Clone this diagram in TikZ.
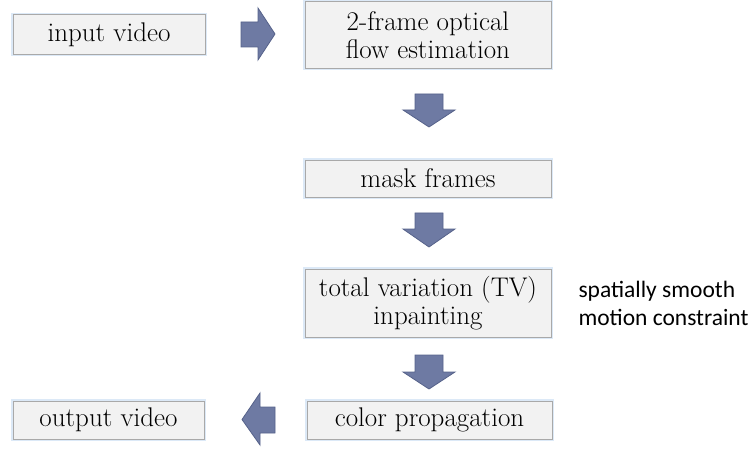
\documentclass[tikz,border=0pt]{standalone}
\usepackage{fontspec}
\newfontfamily\sidefont{Carlito}
\begin{document}
\begin{tikzpicture}[x=1pt,y=-1pt,
  stepbox/.style={draw=boxline, fill=boxfill, line width=0.9pt, inner sep=0pt, align=center,
    font=\fontsize{27}{28}\selectfont,
    preaction={draw=glow, line width=3.5pt}},
  blockarrow/.style={draw=arrline, fill=arrfill, line width=0.8pt, line join=miter}]
\definecolor{boxfill}{HTML}{F2F2F2}
\definecolor{boxline}{HTML}{A9A9A9}
\definecolor{glow}{HTML}{DCE9F7}
\definecolor{arrfill}{HTML}{6E7AA3}
\definecolor{arrline}{HTML}{56628A}
\useasboundingbox (0,0) rectangle (752,449);
% boxes
\node[stepbox, minimum width=192pt, minimum height=40pt] (in) at (109,34.5) {input video};
\node[stepbox, minimum width=246pt, minimum height=67pt] (flow) at (428,35) {2-frame optical\\flow estimation};
\node[stepbox, minimum width=246pt, minimum height=37pt] (mask) at (428,178.5) {mask frames};
\node[stepbox, minimum width=246pt, minimum height=68pt] (tv) at (428,303) {total variation (TV)\\inpainting};
\node[stepbox, minimum width=245pt, minimum height=38pt] (color) at (429.5,420) {color propagation};
\node[stepbox, minimum width=191pt, minimum height=38pt] (out) at (108.5,420) {output video};
\node[anchor=west, align=left, font=\sidefont\fontsize{23.5}{28}\selectfont] (note) at (575,303) {spatially smooth\\motion constraint};
% arrows
\draw[blockarrow] (241,22) -- (258,22) -- (258,8) -- (275,34) -- (258,60) -- (258,47) -- (241,47) -- cycle;
\draw[blockarrow] (415,94) -- (443,94) -- (443,110) -- (455,110) -- (429,127) -- (403,110) -- (415,110) -- cycle;
\draw[blockarrow] (415,213) -- (443,213) -- (443,229) -- (455,229) -- (429,247) -- (403,229) -- (415,229) -- cycle;
\draw[blockarrow] (415,355) -- (443,355) -- (443,372) -- (455,372) -- (429,389) -- (403,372) -- (415,372) -- cycle;
\draw[blockarrow] (275,407) -- (260,407) -- (260,393) -- (242,419.5) -- (260,445) -- (260,433) -- (275,433) -- cycle;
\end{tikzpicture}
\end{document}
